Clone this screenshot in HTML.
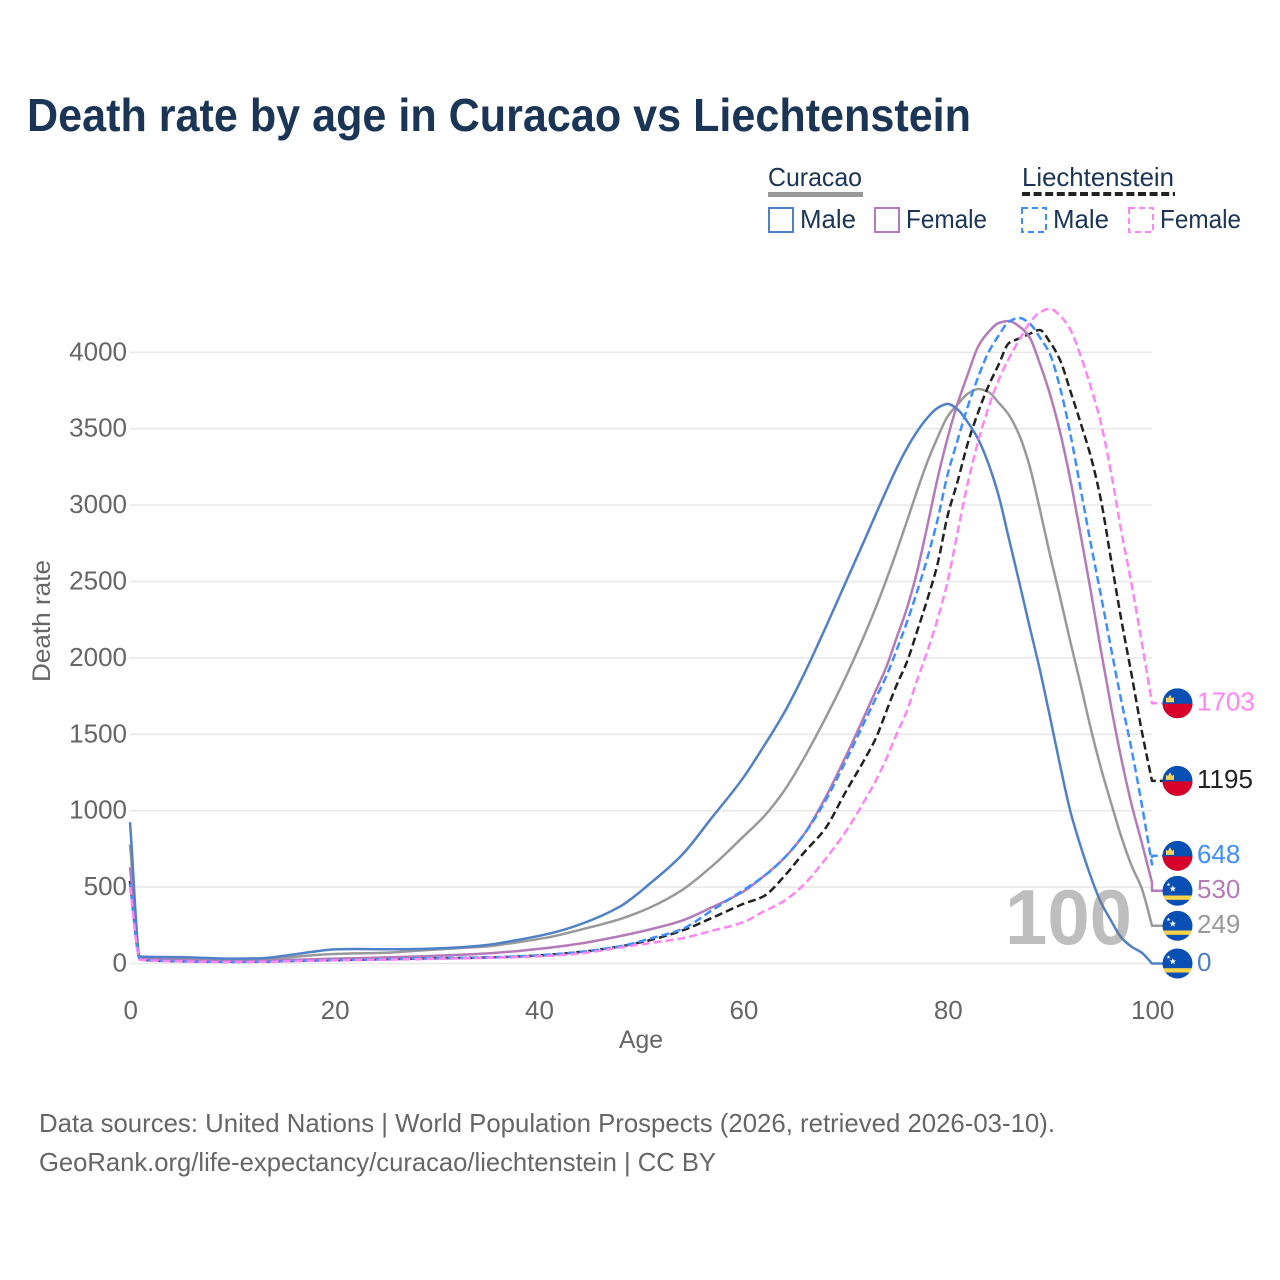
<!DOCTYPE html>
<html lang="en">
<head>
<meta charset="utf-8">
<title>Death rate by age in Curacao vs Liechtenstein</title>
<style>
html,body{margin:0;padding:0;background:#fff;width:1280px;height:1280px;overflow:hidden}
svg{display:block;font-family:"Liberation Sans",sans-serif}
</style>
</head>
<body>
<svg id="chart" xmlns="http://www.w3.org/2000/svg" width="1280" height="1280" viewBox="0 0 1280 1280">
  <rect width="1280" height="1280" fill="#fff"/>
  <text x="27" y="131" font-size="46" font-weight="700" fill="#1a3555" textLength="944" lengthAdjust="spacingAndGlyphs">Death rate by age in Curacao vs Liechtenstein</text>

  <g font-size="26" fill="#1a3555">
    <text x="768" y="186" textLength="94" lengthAdjust="spacingAndGlyphs">Curacao</text>
    <rect x="768" y="192" width="95" height="5" fill="#999"/>
    <text x="1022" y="186" textLength="152" lengthAdjust="spacingAndGlyphs">Liechtenstein</text>
    <line x1="1022" y1="194" x2="1175" y2="194" stroke="#222" stroke-width="4" stroke-dasharray="8 3.6"/>

    <rect x="769" y="208" width="24" height="24" fill="none" stroke="#5080c8" stroke-width="2"/>
    <text x="800" y="228" textLength="56" lengthAdjust="spacingAndGlyphs">Male</text>
    <rect x="875" y="208" width="24" height="24" fill="none" stroke="#b57ab8" stroke-width="2"/>
    <text x="906" y="228" textLength="81" lengthAdjust="spacingAndGlyphs">Female</text>
    <rect x="1022" y="208" width="24" height="24" fill="none" stroke="#3e8eff" stroke-width="2" stroke-dasharray="6 4"/>
    <text x="1053" y="228" textLength="56" lengthAdjust="spacingAndGlyphs">Male</text>
    <rect x="1129" y="208" width="24" height="24" fill="none" stroke="#ff85f5" stroke-width="2" stroke-dasharray="6 4"/>
    <text x="1160" y="228" textLength="81" lengthAdjust="spacingAndGlyphs">Female</text>
  </g>

  <g id="grid"></g>
  <g id="yticks" font-size="26" fill="#666" text-anchor="end"></g>
  <g id="xticks" font-size="26" fill="#666" text-anchor="middle"></g>
  <text transform="translate(50,621) rotate(-90)" font-size="25" fill="#666" text-anchor="middle" textLength="122" lengthAdjust="spacingAndGlyphs">Death rate</text>
  <text x="641" y="1048" font-size="25" fill="#666" text-anchor="middle" textLength="44" lengthAdjust="spacingAndGlyphs">Age</text>

  <g id="series"></g>
  <text id="age-marker" x="1005" y="944" font-size="78" font-weight="700" fill="rgb(120,120,120)" fill-opacity="0.48" textLength="127" lengthAdjust="spacingAndGlyphs">100</text>
  <g id="endlabels"></g>

  <g font-size="26" fill="#666">
    <text x="39" y="1132" textLength="1016" lengthAdjust="spacingAndGlyphs">Data sources: United Nations | World Population Prospects (2026, retrieved 2026-03-10).</text>
    <text x="39" y="1171" textLength="677" lengthAdjust="spacingAndGlyphs">GeoRank.org/life-expectancy/curacao/liechtenstein | CC BY</text>
  </g>
</svg>
<script>
const ages = [0,1,5,10,13,15,18,20,22,25,28,32,35,38,41,44,48,51,54,57,60,62,64,66,68,70,72,73,74,75,76,77,78,79,80,81,82,83,84,85,86,87,88,89,90,91,92,93,94,95,96,97,98,99,100];
const curacaoBoth = [780,40,35,28,30,37,55,62,66,70,84,100,112,140,172,220,292,370,480,640,830,960,1130,1350,1600,1870,2170,2335,2510,2695,2890,3090,3280,3440,3580,3660,3730,3760,3740,3670,3590,3460,3260,2980,2680,2400,2110,1830,1540,1280,1050,830,640,490,249];
const liechtensteinBoth = [540,25,15,11,12,16,20,22,24,28,32,36,39,46,57,75,112,155,215,300,390,440,570,730,880,1120,1350,1478,1650,1820,1970,2170,2380,2610,2930,3160,3410,3610,3780,3920,4060,4090,4120,4146,4068,3950,3750,3540,3320,3034,2640,2250,1890,1520,1195];
const curacaoFemale = [630,35,22,15,16,22,28,32,35,40,46,56,66,82,103,130,180,225,280,370,470,570,690,850,1080,1350,1640,1790,1940,2130,2320,2560,2860,3170,3440,3669,3860,4040,4133,4192,4205,4170,4100,3930,3730,3480,3170,2810,2440,2050,1680,1340,1040,790,530];
const curacaoMale = [925,45,42,32,35,50,78,92,95,93,95,105,122,155,195,255,375,530,710,960,1215,1420,1640,1900,2190,2490,2790,2945,3095,3240,3370,3480,3570,3635,3662,3625,3540,3430,3270,3060,2780,2500,2210,1930,1620,1300,1000,770,570,400,280,170,110,70,0];
const liechtensteinMale = [520,25,15,10,12,15,19,22,24,28,33,37,40,47,58,75,113,165,225,350,480,570,690,850,1060,1320,1600,1740,1880,2050,2230,2430,2650,2900,3200,3430,3650,3840,4000,4110,4200,4225,4190,4100,3990,3770,3470,3110,2750,2410,2060,1720,1400,1040,648];
const liechtensteinFemale = [500,25,14,10,11,14,18,20,22,25,28,33,37,42,50,65,105,135,165,215,270,340,410,520,680,860,1080,1200,1340,1500,1650,1850,2040,2250,2500,2830,3150,3420,3640,3820,3960,4080,4190,4260,4285,4240,4150,3980,3774,3538,3210,2830,2480,2100,1703];
const yTickValues = [0,500,1000,1500,2000,2500,3000,3500,4000];
const xTickValues = [0,20,40,60,80,100];

const NS = 'http://www.w3.org/2000/svg';
const xAxis = a => 130 + a * 10.22;
const yAxis = v => 963.5 - v * 0.1528;
function make(tag, attrs, parent) {
  const el = document.createElementNS(NS, tag);
  for (const k in attrs) el.setAttribute(k, attrs[k]);
  parent.appendChild(el);
  return el;
}

// Monotone cubic path through the points, so sampled ages draw as a smooth curve
function curvePath(xs, ys) {
  const n = xs.length, d = [], m = [];
  for (let i = 0; i < n - 1; i++) d.push((ys[i + 1] - ys[i]) / (xs[i + 1] - xs[i]));
  m[0] = d[0];
  m[n - 1] = d[n - 2];
  for (let i = 1; i < n - 1; i++) {
    if (d[i - 1] * d[i] <= 0) { m[i] = 0; continue; }
    const h0 = xs[i] - xs[i - 1], h1 = xs[i + 1] - xs[i];
    m[i] = 3 * (h0 + h1) / ((2 * h1 + h0) / d[i - 1] + (h1 + 2 * h0) / d[i]);
  }
  let out = 'M' + xs[0].toFixed(1) + ' ' + ys[0].toFixed(1);
  for (let i = 0; i < n - 1; i++) {
    const h = (xs[i + 1] - xs[i]) / 3;
    out += ' C' + (xs[i] + h).toFixed(1) + ' ' + (ys[i] + m[i] * h).toFixed(1) + ' ' +
      (xs[i + 1] - h).toFixed(1) + ' ' + (ys[i + 1] - m[i + 1] * h).toFixed(1) + ' ' +
      xs[i + 1].toFixed(1) + ' ' + ys[i + 1].toFixed(1);
  }
  return out;
}

const grid = document.getElementById('grid');
const yticks = document.getElementById('yticks');
const xticks = document.getElementById('xticks');
yTickValues.forEach(v => {
  const line = make('line', {x1: xAxis(0), x2: xAxis(100), y1: yAxis(v), y2: yAxis(v), stroke: '#e8e8e8', 'stroke-width': 1.6}, grid);
  
  
  const t = make('text', {x: 127, y: yAxis(v) + 8}, yticks);
  
  
  t.textContent = v;
});
xTickValues.forEach(v => {
  const t = make('text', {x: xAxis(v) + 0.7, y: 1019}, xticks);
  
  
  t.textContent = v;
});

const seriesList = [
  {key: 'curacao-both', country: 'curacao', values: curacaoBoth, color: '#999999', dash: ''},
  {key: 'liechtenstein-both', country: 'liechtenstein', values: liechtensteinBoth, color: '#222222', dash: '8 4'},
  {key: 'curacao-female', country: 'curacao', values: curacaoFemale, color: '#b57ab8', dash: ''},
  {key: 'curacao-male', country: 'curacao', values: curacaoMale, color: '#5080c8', dash: ''},
  {key: 'liechtenstein-male', country: 'liechtenstein', values: liechtensteinMale, color: '#3e8eff', dash: '8 4'},
  {key: 'liechtenstein-female', country: 'liechtenstein', values: liechtensteinFemale, color: '#ff85f5', dash: '8 4'}
];

// Spread the end labels apart so the flags never overlap
const placed = seriesList.map(s => {
  const end = s.values[s.values.length - 1];
  return {s: s, end: end, y: yAxis(end)};
}).sort((a, b) => a.y - b.y);
for (let pass = 0; pass < 40; pass++) {
  for (let i = 1; i < placed.length; i++) {
    const gap = placed[i].y - placed[i - 1].y;
    if (gap < 35) {
      const push = (35 - gap) / 2;
      placed[i - 1].y -= push;
      placed[i].y += push;
    }
  }
}

const seriesGroup = document.getElementById('series');
seriesList.forEach(s => {
  const p = placed.find(q => q.s === s);
  const xs = ages.map(a => xAxis(a));
  const ys = s.values.map(v => yAxis(v));
  const d = curvePath(xs, ys) + ' L' + xAxis(100).toFixed(1) + ' ' + p.y.toFixed(1) + ' L1163 ' + p.y.toFixed(1);
  const line = make('path', {d: d, fill: 'none', stroke: s.color, 'stroke-width': 2.5, 'stroke-linejoin': 'round'}, seriesGroup);
  if (s.dash) line.setAttribute('stroke-dasharray', s.dash);
  
  
});

function star(cx, cy, r) {
  const out = [];
  for (let i = 0; i < 10; i++) {
    const rad = i % 2 ? r * 0.42 : r;
    const ang = -Math.PI / 2 + i * Math.PI / 5;
    out.push((cx + rad * Math.cos(ang)).toFixed(2) + ',' + (cy + rad * Math.sin(ang)).toFixed(2));
  }
  return out.join(' ');
}

const defs = make('defs', {}, document.getElementById('chart'));
const endGroup = document.getElementById('endlabels');
placed.forEach((p, i) => {
  const cx = 1177.5, cy = p.y, r = 15;
  const clip = make('clipPath', {id: 'flag-clip-' + i}, defs);
  make('circle', {cx: cx, cy: cy, r: r}, clip);
  const flag = make('g', {'clip-path': 'url(#flag-clip-' + i + ')'}, endGroup);
  
  
  make('rect', {x: cx - r, y: cy - r, width: 2 * r, height: 2 * r, fill: '#0a50b4'}, flag);
  if (p.s.country === 'liechtenstein') {
    make('rect', {x: cx - r, y: cy + 0.5, width: 2 * r, height: r, fill: '#d8002b'}, flag);
    make('polygon', {points: [cx - 11.5, cy - 1, cx - 11.5, cy - 6, cx - 9.5, cy - 5, cx - 7.5, cy - 8.7, cx - 5.5, cy - 5, cx - 3.5, cy - 6, cx - 3.5, cy - 1].join(','), fill: '#fdd35a'}, flag);
  } else {
    make('rect', {x: cx - r, y: cy + 4.7, width: 2 * r, height: 4.3, fill: '#f9d448'}, flag);
    make('polygon', {points: star(cx - 4.7, cy - 2, 3.4), fill: '#fff'}, flag);
    make('polygon', {points: star(cx - 9, cy - 6.3, 2), fill: '#fff'}, flag);
  }
  const t = make('text', {x: 1197, y: cy + 7.3, 'font-size': 26, fill: p.s.color}, endGroup);
  
  
  t.textContent = p.end;
});
</script>
</body>
</html>
